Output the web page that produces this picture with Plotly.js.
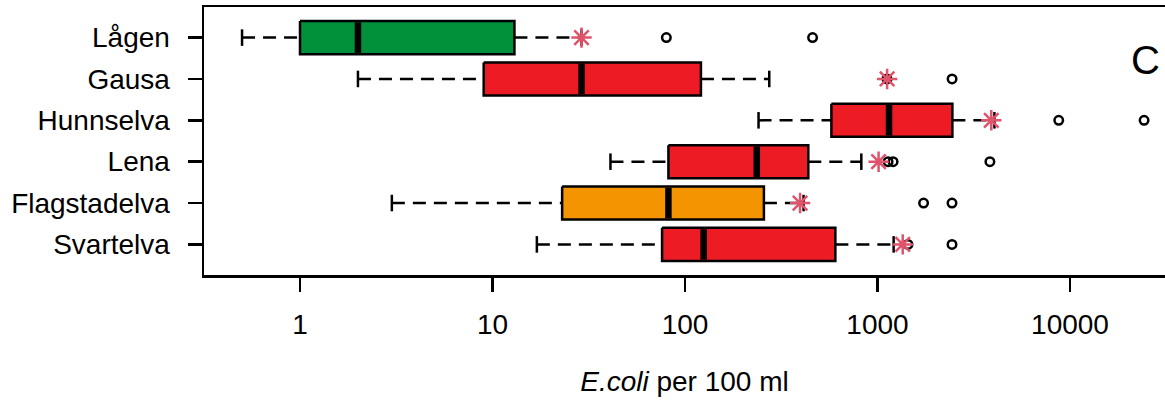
<!DOCTYPE html>
<html>
<head>
<meta charset="utf-8">
<script src="https://cdn.plot.ly/plotly-3.0.1.min.js"></script>
<style>html,body{margin:0;padding:0;background:#fff;}#chart{width:1165px;height:406px;}</style>
</head>
<body>
<div id="chart"></div>
<script>
// ---- data ----
const sites = ['Lågen', 'Gausa', 'Hunnselva', 'Lena', 'Flagstadelva', 'Svartelva'];
const lowWhisker  = [0.5, 2, 241, 41, 3, 17];
const q1          = [1, 9, 576, 82, 23, 76];
const median      = [2, 29, 1148, 236, 82, 125];
const q3          = [13, 121, 2449, 437, 257, 604];
const highWhisker = [29, 274, 4050, 824, 413, 1213];
const meanValue   = [29, 1122, 3900, 1013, 396, 1352];
const outlierSite  = ['Lågen', 'Lågen', 'Gausa', 'Gausa', 'Hunnselva', 'Hunnselva', 'Lena', 'Lena', 'Lena', 'Flagstadelva', 'Flagstadelva', 'Svartelva', 'Svartelva'];
const outlierValue = [80, 460, 1120, 2440, 8740, 24260, 1135, 1205, 3836, 1735, 2438, 1440, 2438];
const boxColors = ['#00913A', '#ED1C24', '#ED1C24', '#ED1C24', '#F39400', '#ED1C24'];
const xTicks = [1, 10, 100, 1000, 10000];
const xTickText = ['1', '10', '100', '1000', '10000'];

// ---- build traces ----
const pos = sites.map((s, i) => i + 1);
const half = 0.4, capHalf = 0.2;
const traces = [];

// whiskers (dashed)
const wx = [], wy = [];
sites.forEach((s, i) => {
  wx.push(lowWhisker[i], q1[i], null, q3[i], highWhisker[i], null);
  wy.push(pos[i], pos[i], null, pos[i], pos[i], null);
});
traces.push({x: wx, y: wy, mode: 'lines', type: 'scatter', hoverinfo: 'skip',
  line: {color: '#000', width: 2.5, dash: '13px,8px'}});

// caps
const cx = [], cy = [];
sites.forEach((s, i) => {
  cx.push(lowWhisker[i], lowWhisker[i], null, highWhisker[i], highWhisker[i], null);
  cy.push(pos[i] - capHalf, pos[i] + capHalf, null, pos[i] - capHalf, pos[i] + capHalf, null);
});
traces.push({x: cx, y: cy, mode: 'lines', type: 'scatter', hoverinfo: 'skip',
  line: {color: '#000', width: 2.5}});

// boxes
sites.forEach((s, i) => {
  traces.push({
    x: [q1[i], q3[i], q3[i], q1[i], q1[i]],
    y: [pos[i] - half, pos[i] - half, pos[i] + half, pos[i] + half, pos[i] - half],
    mode: 'lines', type: 'scatter', fill: 'toself', fillcolor: boxColors[i],
    line: {color: '#000', width: 2.5}, name: s, hoverinfo: 'skip'
  });
});

// medians
const mx = [], my = [];
sites.forEach((s, i) => {
  mx.push(median[i], median[i], null);
  my.push(pos[i] - half + 0.03, pos[i] + half - 0.03, null);
});
traces.push({x: mx, y: my, mode: 'lines', type: 'scatter', hoverinfo: 'skip',
  line: {color: '#000', width: 6.5}});

// outliers
traces.push({
  x: outlierValue, y: outlierSite.map(s => sites.indexOf(s) + 1),
  mode: 'markers', type: 'scatter',
  marker: {symbol: 'circle-open', size: 8.5, color: '#000', line: {width: 2.5, color: '#000'}}
});

// means (asterisks)
traces.push({
  x: meanValue, y: pos, mode: 'markers', type: 'scatter',
  marker: {symbol: 'asterisk-open', size: 17, color: '#DF536B', line: {width: 2.5, color: '#DF536B'}}
});

const font = {family: 'Liberation Sans, Arial, sans-serif', size: 28, color: '#000'};
const layout = {
  width: 1165, height: 406,
  margin: {l: 204, r: 0, t: 7, b: 131},
  paper_bgcolor: '#fff', plot_bgcolor: '#fff',
  showlegend: false,
  font: font,
  xaxis: {
    type: 'log', range: [-0.4987, 4.4935],
    tickvals: xTicks, ticktext: xTickText,
    ticks: 'outside', ticklen: 14, tickwidth: 2.5, tickcolor: '#000',
    showline: true, linewidth: 2.5, linecolor: '#000', mirror: true,
    showgrid: false, zeroline: false,
    ticklabelstandoff: 9,
    tickfont: font,
    title: {text: '<i>E.coli</i> per 100 ml', font: font, standoff: 33}
  },
  yaxis: {
    range: [6.74, 0.26],
    tickvals: pos, ticktext: sites,
    ticks: 'outside', ticklen: 14, tickwidth: 2.5, tickcolor: '#000',
    showline: true, linewidth: 2.5, linecolor: '#000', mirror: false,
    showgrid: false, zeroline: false,
    ticklabelstandoff: 12,
    tickfont: font
  },
  annotations: [{
    text: 'C', xref: 'paper', yref: 'paper', x: 0.980, y: 0.802,
    showarrow: false, font: {family: 'Liberation Sans, Arial, sans-serif', size: 40, color: '#000'},
    xanchor: 'center', yanchor: 'middle'
  }]
};

Plotly.newPlot('chart', traces, layout, {displayModeBar: false, staticPlot: true});
</script>
</body>
</html>
